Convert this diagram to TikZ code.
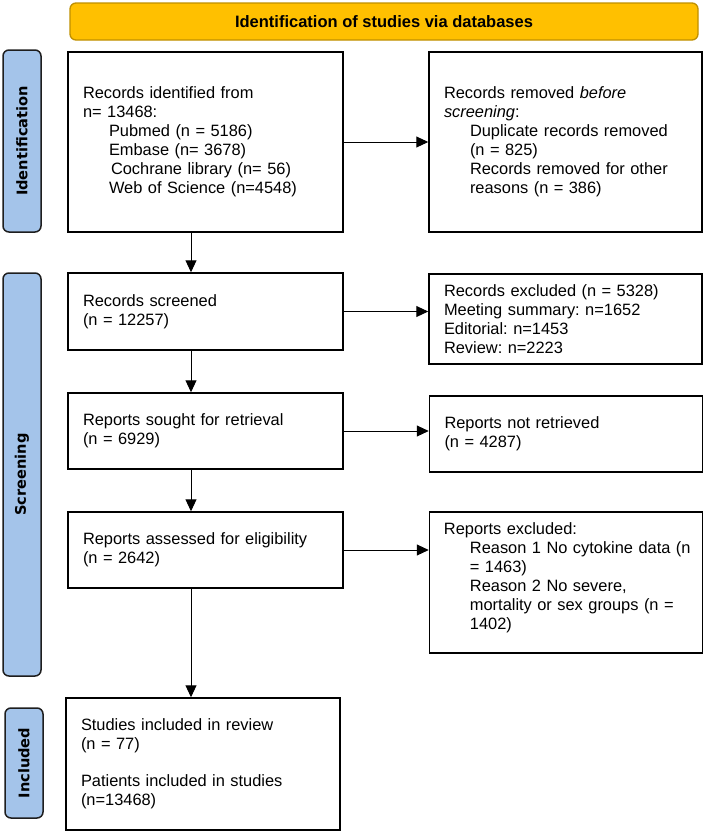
\documentclass[tikz,border=0pt]{standalone}
\usepackage{fontspec}
\setmainfont{Liberation Sans}
\newfontfamily\sidefont{DejaVu Sans}
\usetikzlibrary{arrows.meta,calc}
\frenchspacing
\definecolor{bannerfill}{RGB}{255,192,0}
\definecolor{bannerdraw}{RGB}{191,144,0}
\definecolor{sidefill}{RGB}{164,196,234}
\definecolor{sidedraw}{RGB}{30,30,30}
\tikzset{
  box/.style={draw=black, line width=1.5pt, fill=white, inner xsep=15pt, inner ysep=0pt,
    align=left, font=\fontsize{16.4}{19}\selectfont},
  leftbox/.style={box, minimum width=275pt, text width=245pt},
  rightbox/.style={box, minimum width=273pt, text width=243pt},
  textblk/.style={inner sep=0pt, align=left, text width=243pt, font=\fontsize{16.4}{19}\selectfont},
  banner/.style={draw=bannerdraw, line width=1.3pt, fill=bannerfill, rounded corners=6pt,
    minimum width=628pt, minimum height=37pt, font=\fontsize{16.5}{19}\selectfont\bfseries},
  side/.style={draw=sidedraw, line width=1.5pt, fill=sidefill, rounded corners=6pt, rotate=90,
    minimum height=38pt, inner sep=0pt, font=\sidefont\fontsize{14.6}{16}\selectfont\bfseries},
  arr/.style={line width=1pt, -{Triangle[length=12pt,width=11pt]}}
}
\newcommand{\indt}{\hspace*{26pt}}
\begin{document}
\begin{tikzpicture}[x=1pt,y=-1pt]
\useasboundingbox (0,0) rectangle (706,833);
% banner
\node[banner] (ban) at (384,21.5) {Identification of studies via databases};
% side labels
\node[side, minimum width=182pt] (sid) at (22,141) {Identification};
\node[side, minimum width=403pt] (sscr) at (22,474.5) {Screening};
\node[side, minimum width=110pt] (sinc) at (24,763) {Included};
% boxes
\node[leftbox, minimum height=180pt] (b1) at (205.5,142) {Records identified from\\
n= 13468:\\
\indt Pubmed (n = 5186)\\
\indt Embase (n= 3678)\\
\hspace*{28pt}Cochrane library (n= 56)\\
\indt Web of Science (n=4548)};
\node[rightbox, minimum height=180pt] (b2) at (565.5,142) {Records removed \textit{before}\\
\textit{screening}:\\
\indt Duplicate records removed\\
\indt (n = 825)\\
\indt Records removed for other\\
\indt reasons (n = 386)};
\node[leftbox, minimum height=77pt] (b3) at (205.5,311.5) {Records screened\\(n = 12257)};
\node[rightbox, minimum height=90pt] (b4) at (565.5,319) {Records excluded (n = 5328)\\
Meeting summary: n=1652\\
Editorial: n=1453\\
Review: n=2223};
\node[leftbox, minimum height=76pt] (b5) at (205.5,431) {Reports sought for retrieval\\(n = 6929)};
\node[rightbox, minimum height=76pt] (b6) at (566,434) {Reports not retrieved\\(n = 4287)};
\node[leftbox, minimum height=76pt] (b7) at (205.5,550) {Reports assessed for eligibility\\(n = 2642)};
\node[rightbox, minimum height=141pt] (b8) at (566,582.5) {};
\node[textblk, anchor=north west] (t8) at ($(b8.north west)+(15,11)$) {Reports excluded:\\
\indt\mbox{Reason 1 No cytokine data (n}\\
\indt\mbox{= 1463)}\\
\indt\mbox{Reason 2 No severe,}\\
\indt\mbox{mortality or sex groups (n =}\\
\indt\mbox{1402)}};
\node[box, minimum width=274pt, text width=244pt, minimum height=132pt] (b9) at (203,764) {Studies included in review\\
(n = 77)\\[18pt]
Patients included in studies\\
(n=13468)};
% arrows
\coordinate (ax) at (191,0);
\draw[arr] (b1.east) -- (b1.east -| b2.west);
\draw[arr] (b3.east) -- (b3.east -| b4.west);
\draw[arr] (b5.east) -- (b5.east -| b6.west);
\draw[arr] (b7.east) -- (b7.east -| b8.west);
\draw[arr] (b1.south -| ax) -- (b3.north -| ax);
\draw[arr] (b3.south -| ax) -- (b5.north -| ax);
\draw[arr] (b5.south -| ax) -- (b7.north -| ax);
\draw[arr] (b7.south -| ax) -- (b9.north -| ax);
\end{tikzpicture}
\end{document}
